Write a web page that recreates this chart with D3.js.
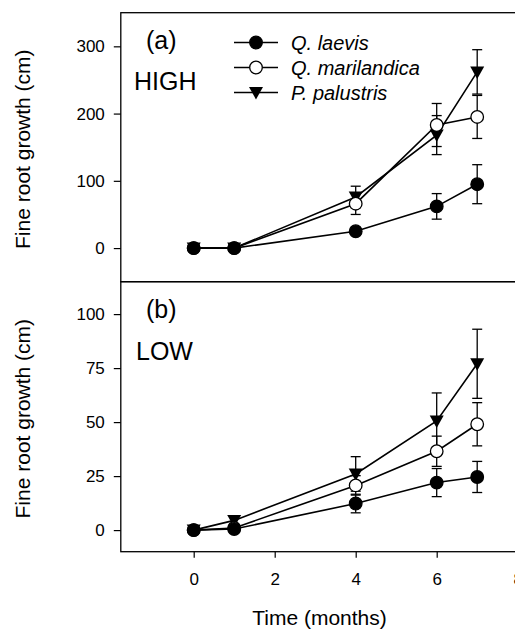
<!doctype html>
<html>
<head>
<meta charset="utf-8">
<script src="https://d3js.org/d3.v7.min.js"></script>
<style>
  body { margin: 0; background: #fff; }
  svg { display: block; font-family: "Liberation Sans", Arial, sans-serif; }
  .tick text { font-size: 17px; fill: #000; }
  .tick line { stroke: #000; stroke-width: 1.2; }
</style>
</head>
<body>
<svg id="chart" width="515" height="631"></svg>
<script>
// time points (months)
var months = [0, 1, 4, 6, 7];

// panel (a) HIGH
var highLaevis = [0, 0, 25, 62, 95];
var highLaevisSE = [0, 0, 0, 19, 29];
var highMarilandica = [0, 0, 66, 183, 195];
var highMarilandicaSE = [0, 0, 16, 32, 32];
var highPalustris = [0, 0, 76, 168, 262];
var highPalustrisSE = [0, 0, 16, 29, 33];

// panel (b) LOW
var lowLaevis = [0, 0.5, 12.3, 22, 24.6];
var lowLaevisSE = [0, 0, 4.3, 6.5, 7.2];
var lowMarilandica = [0, 1, 20.7, 36.5, 49];
var lowMarilandicaSE = [0, 0, 4.5, 7, 10];
var lowPalustris = [0, 4.5, 26, 50.5, 77];
var lowPalustrisSE = [0, 0, 8, 13, 16];

var xTicks = [0, 2, 4, 6, 8];
var highTicks = [0, 100, 200, 300];
var lowTicks = [0, 25, 50, 75, 100];

var speciesNames = ["Q. laevis", "Q. marilandica", "P. palustris"];
var speciesShapes = ["filled", "open", "triangle"];

var svg = d3.select("#chart");
var left = 120.8;

var x = d3.scaleLinear().domain([-1.8, 8.4]).range([left, left + 10.2 * 40.5]);

function marker(sel, shape) {
  if (shape === "triangle") {
    sel.append("path")
      .attr("d", "M-7,-5.5L7,-5.5L0,7Z")
      .attr("fill", "#000");
  } else {
    sel.append("circle")
      .attr("r", 6.3)
      .attr("fill", shape === "open" ? "#fff" : "#000")
      .attr("stroke", "#000")
      .attr("stroke-width", 1.3);
  }
}

function drawPanel(top, bottom, yDomain, ticks, series, label, level, lx, ly) {
  var y = d3.scaleLinear().domain(yDomain).range([bottom, top]);
  var g = svg.append("g");

  g.append("rect")
    .attr("x", x.range()[0]).attr("y", top)
    .attr("width", x.range()[1] - x.range()[0]).attr("height", bottom - top)
    .attr("fill", "none").attr("stroke", "#000").attr("stroke-width", 1.3);

  var ax = g.append("g")
    .attr("transform", "translate(" + left + ",0)")
    .call(d3.axisLeft(y).tickValues(ticks).tickSize(7).tickPadding(9).tickSizeOuter(0));
  ax.select(".domain").remove();

  // error bars first
  series.forEach(function(s) {
    months.forEach(function(m, i) {
      var e = s.se[i];
      if (!e) return;
      var cx = x(m);
      g.append("line").attr("x1", cx).attr("x2", cx)
        .attr("y1", y(s.values[i] - e)).attr("y2", y(s.values[i] + e))
        .attr("stroke", "#000").attr("stroke-width", 1.3);
      [s.values[i] - e, s.values[i] + e].forEach(function(v) {
        g.append("line").attr("x1", cx - 5).attr("x2", cx + 5)
          .attr("y1", y(v)).attr("y2", y(v))
          .attr("stroke", "#000").attr("stroke-width", 1.3);
      });
    });
  });

  var line = d3.line()
    .x(function(d, i) { return x(months[i]); })
    .y(function(d) { return y(d); });

  series.forEach(function(s) {
    g.append("path").attr("d", line(s.values))
      .attr("fill", "none").attr("stroke", "#000").attr("stroke-width", 1.6);
  });

  series.forEach(function(s) {
    s.values.forEach(function(v, i) {
      var mg = g.append("g").attr("transform", "translate(" + x(months[i]) + "," + y(v) + ")");
      marker(mg, s.shape);
    });
  });

  g.append("text").attr("x", 146).attr("y", top + (label === "(a)" ? 36 : 36))
    .attr("font-size", "25px").text(label);
  g.append("text").attr("x", lx).attr("y", ly)
    .attr("font-size", "25px").text(level);

  g.append("text")
    .attr("transform", "translate(30," + ((top + bottom) / 2 + 2) + ") rotate(-90)")
    .attr("text-anchor", "middle").attr("font-size", "21px")
    .text("Fine root growth (cm)");

  return y;
}

drawPanel(12.7, 281.7, [-50, 350], highTicks, [
  { values: highPalustris, se: highPalustrisSE, shape: "triangle" },
  { values: highMarilandica, se: highMarilandicaSE, shape: "open" },
  { values: highLaevis, se: highLaevisSE, shape: "filled" }
], "(a)", "HIGH", 134, 89.5);

drawPanel(281.7, 551.7, [-10, 115], lowTicks, [
  { values: lowPalustris, se: lowPalustrisSE, shape: "triangle" },
  { values: lowMarilandica, se: lowMarilandicaSE, shape: "open" },
  { values: lowLaevis, se: lowLaevisSE, shape: "filled" }
], "(b)", "LOW", 136, 359.5);

// x axis
var xa = svg.append("g")
  .attr("transform", "translate(0,551.7)")
  .call(d3.axisBottom(x).tickValues(xTicks).tickSize(6).tickPadding(15).tickSizeOuter(0));
xa.select(".domain").remove();

svg.append("text")
  .attr("x", 319.5).attr("y", 625)
  .attr("text-anchor", "middle").attr("font-size", "21px")
  .text("Time (months)");

// legend
var legendY = [42.5, 67.5, 92.5];
speciesNames.forEach(function(name, i) {
  var lg = svg.append("g").attr("transform", "translate(0," + legendY[i] + ")");
  lg.append("line").attr("x1", 234).attr("x2", 278).attr("y1", 0).attr("y2", 0)
    .attr("stroke", "#000").attr("stroke-width", 1.6);
  var mg = lg.append("g").attr("transform", "translate(256,0)");
  marker(mg, speciesShapes[i]);
  lg.append("text").attr("x", 291).attr("y", 7)
    .attr("font-size", "20px").attr("font-style", "italic").text(name);
});
</script>
</body>
</html>
